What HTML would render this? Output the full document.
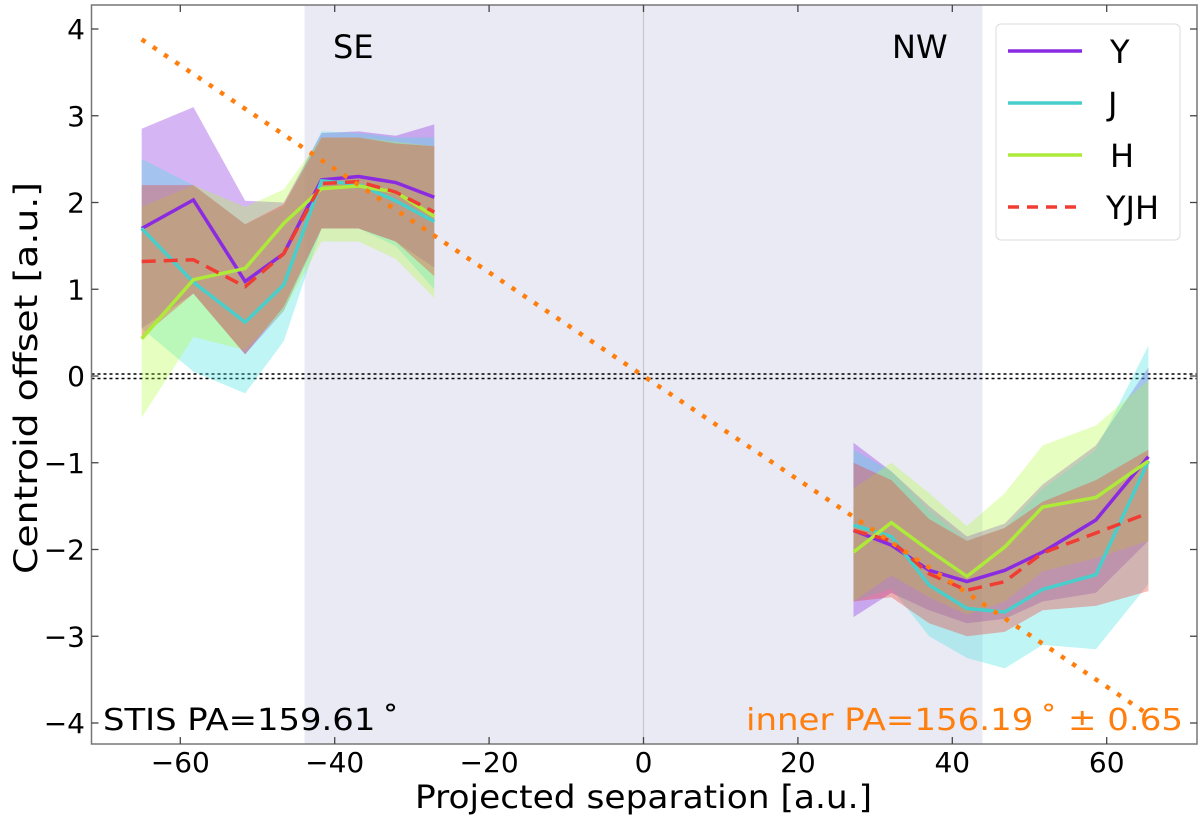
<!DOCTYPE html>
<html><head><meta charset="utf-8"><style>
body{margin:0;background:#fff;}
svg text{font-family:"DejaVu Sans","Liberation Sans",sans-serif;}
</style></head><body>
<svg id="c" width="1200" height="822" xmlns="http://www.w3.org/2000/svg"></svg>
<script>
const xSE=[-65,-58.3,-51.6,-46.6,-41.7,-36.9,-32.1,-27.1];
const xNW=[27.2,32.1,37,41.9,46.8,51.7,58.6,65.4];
const yY=[1.70,2.03,1.09,1.41,2.26,2.30,2.23,2.06,-1.78,-1.95,-2.24,-2.37,-2.24,-2.03,-1.66,-0.93];
const yJ=[1.70,1.08,0.62,1.05,2.25,2.21,2.02,1.78,-1.72,-1.85,-2.41,-2.68,-2.72,-2.46,-2.29,-0.98];
const yH=[0.43,1.11,1.24,1.76,2.16,2.19,2.12,1.84,-2.03,-1.69,-2.01,-2.31,-1.97,-1.51,-1.40,-0.98];
const yYJH=[1.32,1.34,1.03,1.41,2.22,2.24,2.12,1.89,-1.78,-1.90,-2.28,-2.47,-2.37,-2.04,-1.81,-1.58];
const upY=[2.85,3.10,2.02,2.0,2.80,2.82,2.77,2.90,-0.77,-1.1,-1.5,-1.85,-1.7,-1.25,-0.8,0.1];
const loY=[0.55,0.95,0.25,0.75,1.70,1.70,1.55,1.25,-2.78,-2.5,-2.7,-2.85,-2.8,-2.6,-2.5,-1.9];
const upJ=[2.50,2.20,1.75,1.95,2.82,2.80,2.75,2.75,-0.85,-1.1,-1.55,-1.9,-1.75,-1.3,-0.85,0.35];
const loJ=[0.55,0.05,-0.20,0.40,1.70,1.70,1.50,1.00,-2.6,-2.45,-3.0,-3.25,-3.37,-3.1,-3.15,-2.4];
const upH=[1.95,2.20,1.95,2.15,2.75,2.75,2.70,2.65,-1.3,-1.0,-1.35,-1.73,-1.35,-0.8,-0.57,-0.05];
const loH=[-0.48,0.45,0.30,0.75,1.55,1.55,1.35,0.90,-2.6,-2.3,-2.55,-2.75,-2.6,-2.25,-2.1,-1.9];
const upR=[2.20,2.20,1.75,1.98,2.75,2.75,2.68,2.65,-1.0,-1.2,-1.65,-1.9,-1.75,-1.45,-1.2,-0.85];
const loR=[0.45,0.95,0.25,0.80,1.70,1.70,1.55,1.15,-2.6,-2.55,-2.85,-3.0,-2.95,-2.7,-2.65,-2.48];
const xTicks=[-60,-40,-20,0,20,40,60];
const yTicks=[4,3,2,1,0,-1,-2,-3,-4];
const paLine=[[-65,3.88],[65,-3.88]];
const shadeX=[-43.9,43.9];

const L=91.5,R=1197,T=5,B=744;
const X=v=>643.5+v*7.72;
const Y=v=>376-v*86.75;
const svg=document.getElementById('c');
const NS='http://www.w3.org/2000/svg';
function mk(tag,at,parent){const e=document.createElementNS(NS,tag);for(const k in at)e.setAttribute(k,at[k]);(parent||svg).appendChild(e);return e;}

let e=mk('rect',{x:X(shadeX[0]),y:T,width:X(shadeX[1])-X(shadeX[0]),height:B-T,fill:'#eaeaf4'});


e=mk('line',{x1:X(0),x2:X(0),y1:T,y2:B,stroke:'#c8c8c8','stroke-width':1.2});


[374,378.5].forEach(yy=>{
 e=mk('line',{x1:L,x2:R,y1:yy,y2:yy,stroke:'#000','stroke-width':1.6,'stroke-dasharray':'3,3'});
 
 
});

const series=[
 {n:'y',c:'#8a2be2',fc:'rgba(138,43,226,0.35)',v:yY,u:upY,l:loY},
 {n:'j',c:'#48cfcc',fc:'rgba(64,224,228,0.33)',v:yJ,u:upJ,l:loJ},
 {n:'h',c:'#adea3a',fc:'rgba(173,255,47,0.3)',v:yH,u:upH,l:loH},
 {n:'yjh',c:'#f03c32',fc:'rgba(240,60,50,0.35)',v:yYJH,u:upR,l:loR,dash:'14,8'}
];
const sides=[[0,xSE],[8,xNW]];
series.forEach(s=>{sides.forEach(([o,xs])=>{
 let pts=xs.map((x,i)=>X(x)+','+Y(s.u[o+i]));
 for(let i=xs.length-1;i>=0;i--)pts.push(X(xs[i])+','+Y(s.l[o+i]));
 const p=mk('polygon',{points:pts.join(' '),fill:s.fc});
 
 
});});
series.forEach(s=>{sides.forEach(([o,xs])=>{
 const p=mk('polyline',{points:xs.map((x,i)=>X(x)+','+Y(s.v[o+i])).join(' '),fill:'none',stroke:s.c,'stroke-width':3.5});
 if(s.dash)p.setAttribute('stroke-dasharray',s.dash);
 
 
});});
e=mk('line',{x1:X(paLine[0][0]),y1:Y(paLine[0][1]),x2:X(paLine[1][0]),y2:Y(paLine[1][1]),stroke:'#ff7f0e','stroke-width':4.5,'stroke-dasharray':'4.5,9'});



e=mk('rect',{x:L,y:T,width:R-L,height:B-T,fill:'none',stroke:'#777','stroke-width':1.5});


xTicks.forEach(t=>{
 const x=X(t);
 mk('line',{x1:x,x2:x,y1:B,y2:B-7,stroke:'#444','stroke-width':1.3});
 mk('line',{x1:x,x2:x,y1:T,y2:T+7,stroke:'#444','stroke-width':1.3});
 const tx=mk('text',{x:x,y:772,'font-size':28,'text-anchor':'middle'});
 tx.textContent=(t<0?'\u2212':'')+Math.abs(t);
 
 
});
yTicks.forEach(t=>{
 const y=Y(t);
 mk('line',{x1:L,x2:L+7,y1:y,y2:y,stroke:'#444','stroke-width':1.3});
 mk('line',{x1:R,x2:R-7,y1:y,y2:y,stroke:'#444','stroke-width':1.3});
 const tx=mk('text',{x:85,y:y+10,'font-size':28,'text-anchor':'end'});
 tx.textContent=(t<0?'\u2212':'')+Math.abs(t);
 
 
});
function txt(s,at,name){const t=mk('text',at);t.textContent=s;return t;}
txt('Projected separation [a.u.]',{x:415,y:808,'font-size':32,textLength:457,lengthAdjust:'spacingAndGlyphs'},'x-axis-title');
txt('Centroid offset [a.u.]',{x:0,y:0,'font-size':32,'text-anchor':'middle',textLength:392,lengthAdjust:'spacingAndGlyphs',transform:'translate(37,378) rotate(-90)'},'y-axis-title');
txt('SE',{x:333,y:58,'font-size':32},'se-label');
txt('NW',{x:892,y:58,'font-size':32},'nw-label');
txt('STIS PA=159.61\u2009\u02da',{x:103,y:730,'font-size':30,textLength:296,lengthAdjust:'spacingAndGlyphs'},'stis-pa-annotation');
txt('inner PA=156.19\u2009\u02da \u00b1 0.65',{x:746,y:730,'font-size':30,textLength:437,lengthAdjust:'spacingAndGlyphs',fill:'#ff7f0e'},'inner-pa-annotation');

const lg=mk('g',{});


mk('rect',{x:996,y:24,width:184,height:216,rx:5,fill:'#fff','fill-opacity':0.85,stroke:'#ddd'},lg);
const lgNames=['Y','J','H','YJH'];
series.forEach((s,i)=>{
 const y=51+i*52;
 const ln=mk('line',{x1:1008,x2:1082,y1:y,y2:y,stroke:s.c,'stroke-width':3.5},lg);
 if(s.dash)ln.setAttribute('stroke-dasharray','11,8');
 
 
 const t=mk('text',{x:lgNames[i]==='YJH'?1106:(lgNames[i]==='J'?1108:1110),y:y+12,'font-size':32},lg);
 t.textContent=lgNames[i];
 
 
});
</script>
</body></html>
